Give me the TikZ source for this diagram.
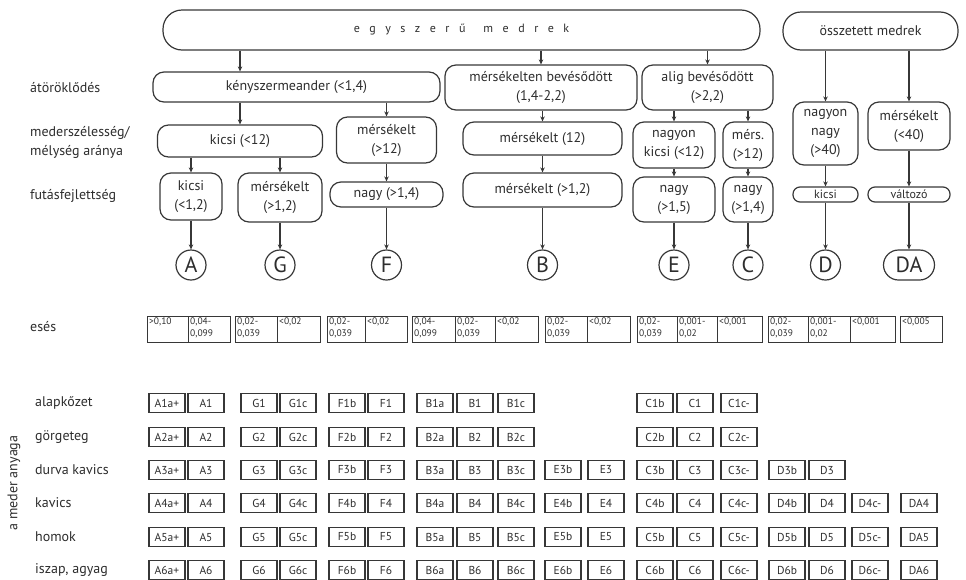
\documentclass[tikz,border=0pt]{standalone}
\usepackage{fontspec}
\setmainfont{PT Sans}
\usetikzlibrary{arrows.meta, positioning, calc}
\definecolor{vonalszin}{RGB}{55,55,55}
\definecolor{betuszin}{RGB}{45,45,45}

\begin{document}
\begin{tikzpicture}[
    x=1pt, y=-1pt,
    mbox/.style={draw=vonalszin, line width=1.2pt, rounded corners=11pt, align=center, inner sep=1pt, text=betuszin, font=\fontsize{14}{19}\selectfont},
    tinybox/.style={draw=vonalszin, line width=1.2pt, rounded corners=7pt, minimum height=15, inner sep=0pt, text=betuszin, font=\fontsize{12}{12}\selectfont},
    betu/.style={draw=vonalszin, line width=1.2pt, circle, minimum size=30, inner sep=0pt, text=betuszin, font=\fontsize{22}{22}\selectfont},
    cimke/.style={anchor=west, inner sep=0pt, align=left, text=betuszin, font=\fontsize{14}{19}\selectfont},
    esescella/.style={draw=vonalszin, line width=1.4pt, anchor=north west, minimum height=26, inner sep=0pt},
    esesszoveg/.style={anchor=north west, inner sep=2pt, align=left, text=betuszin, font=\fontsize{9.5}{11.5}\selectfont},
    cella/.style={draw=vonalszin, line width=1.4pt, minimum width=36, minimum height=19, inner sep=0pt, text=betuszin, font=\fontsize{11.5}{11.5}\selectfont},
    nyil/.style={draw=vonalszin, line width=1.1pt, -{Stealth[length=5pt, width=4.5pt]}}
]
    \useasboundingbox (0,0) rectangle (966,579);

    % Top level
    \node[mbox, minimum width=597, minimum height=40, rounded corners=19pt] (egy) at (461.5,30)
        {\fontsize{12}{12}\selectfont\spaceskip=9.5pt e g y s z e r ű\hspace{18pt}m e d r e k};
    \node[mbox, minimum width=175, minimum height=38, rounded corners=18pt] (ossz) at (870.5,31) {összetett medrek};

    % Entrenchment
    \node[mbox, minimum width=287, minimum height=30] (kenyszer) at (296.5,87) {kényszermeander (<1,4)};
    \node[mbox, minimum width=192, minimum height=45] (mersbev) at (541,87.5) {mérsékelten bevésődött\\(1,4-2,2)};
    \node[mbox, minimum width=131, minimum height=45] (alig) at (707.5,87.5) {alig bevésődött\\(>2,2)};

    % Width/depth ratio
    \node[mbox, minimum width=165, minimum height=32] (kicsiArany) at (240,141) {kicsi (<12)};
    \node[mbox, minimum width=100, minimum height=46] (mersArany) at (386.5,140) {mérsékelt\\(>12)};
    \node[mbox, minimum width=159, minimum height=33] (mersB) at (542.5,138.5) {mérsékelt (12)};
    \node[mbox, minimum width=82, minimum height=46] (nagyonKicsi) at (674,145) {nagyon\\kicsi (<12)};
    \node[mbox, minimum width=50, minimum height=46] (mersC) at (748,145) {mérs.\\(>12)};
    \node[mbox, minimum width=65, minimum height=63] (nagyonNagy) at (825.5,133.5) {nagyon\\nagy\\(>40)};
    \node[mbox, minimum width=82, minimum height=48] (mersDA) at (909,126) {mérsékelt\\(<40)};

    % Sinuosity
    \node[mbox, minimum width=62, minimum height=47] (kicsiFut) at (191,196.5) {kicsi\\(<1,2)};
    \node[mbox, minimum width=84, minimum height=49] (mersFut) at (280,197.5) {mérsékelt\\(>1,2)};
    \node[mbox, minimum width=113, minimum height=25] (nagyF) at (386.5,194.5) {nagy (>1,4)};
    \node[mbox, minimum width=159, minimum height=34] (mersFutB) at (542.5,190) {mérsékelt (>1,2)};
    \node[mbox, minimum width=82, minimum height=45] (nagyE) at (674,199.5) {nagy\\(>1,5)};
    \node[mbox, minimum width=50, minimum height=45] (nagyC) at (748,199.5) {nagy\\(>1,4)};
    \node[tinybox, minimum width=65] (kicsiD) at (825.5,194.5) {kicsi};
    \node[tinybox, minimum width=82] (valtozo) at (909,194.5) {változó};

    % Stream types
    \node[betu] (tA) at (191,265) {A};
    \node[betu] (tG) at (280,265) {G};
    \node[betu] (tF) at (386.5,265) {F};
    \node[betu] (tB) at (542.5,265) {B};
    \node[betu] (tE) at (674,265) {E};
    \node[betu] (tC) at (748,265) {C};
    \node[betu] (tD) at (825.5,265) {D};
    \node[betu, circle=false, rectangle, rounded corners=15pt, minimum width=51, minimum height=30] (tDA) at (909,265) {DA};

    % Connections
    \draw[nyil] (egy.south -| kicsiArany) -- (kenyszer.north -| kicsiArany);
    \draw[nyil] (egy.south -| mersbev) -- (mersbev.north);
    \draw[nyil] (egy.south -| alig) -- (alig.north);
    \draw[nyil] (ossz.south -| nagyonNagy) -- (nagyonNagy.north);
    \draw[nyil] (ossz.south -| mersDA) -- (mersDA.north);
    \draw[nyil] (kenyszer.south -| kicsiArany) -- (kicsiArany.north);
    \draw[nyil] (kenyszer.south -| mersArany) -- (mersArany.north);
    \draw[nyil] (mersbev.south -| mersB) -- (mersB.north);
    \draw[nyil] (alig.south -| nagyonKicsi) -- (nagyonKicsi.north);
    \draw[nyil] (alig.south -| mersC) -- (mersC.north);
    \draw[nyil] (kicsiArany.south -| kicsiFut) -- (kicsiFut.north);
    \draw[nyil] (kicsiArany.south -| mersFut) -- (mersFut.north);
    \draw[nyil] (mersArany) -- (nagyF);
    \draw[nyil] (mersB) -- (mersFutB);
    \draw[nyil] (nagyonKicsi) -- (nagyE);
    \draw[nyil] (mersC) -- (nagyC);
    \draw[nyil] (nagyonNagy) -- (kicsiD);
    \draw[nyil] (mersDA) -- (valtozo);
    \draw[nyil] (kicsiFut) -- (tA);
    \draw[nyil] (mersFut) -- (tG);
    \draw[nyil] (nagyF) -- (tF);
    \draw[nyil] (mersFutB) -- (tB);
    \draw[nyil] (nagyE) -- (tE);
    \draw[nyil] (nagyC) -- (tC);
    \draw[nyil] (kicsiD) -- (tD);
    \draw[nyil] (valtozo) -- (tDA);

    % Row labels
    \node[cimke] (lAtor) at (30,88) {átöröklődés};
    \node[cimke] (lArany) at (30,142) {mederszélesség/\\mélység aránya};
    \node[cimke] (lFut) at (30,196) {futásfejlettség};
    \node[cimke] (lEses) at (30,327) {esés};

    % Slope
    \foreach \x/\w/\t [count=\i] in {147/41/{>0,10}, 188/42/{0,04-\\0,099},
        235/42/{0,02-\\0,039}, 277/43/{<0,02},
        327/38/{0,02-\\0,039}, 365/42/{<0,02},
        412/43/{0,04-\\0,099}, 455/40/{0,02-\\0,039}, 495/43/{<0,02},
        545/42/{0,02-\\0,039}, 587/43/{<0,02},
        637/40/{0,02-\\0,039}, 677/40/{0,001-\\0,02}, 717/45/{<0,001},
        768/40/{0,02-\\0,039}, 808/42/{0,001-\\0,02}, 850/45/{<0,001},
        900/42/{<0,005}} {
        \node[esescella, minimum width=\w] (e\i) at (\x,316) {};
        \node[esesszoveg] (et\i) at (e\i.north west) {\t};
    }

    % Bed material
    \node[cimke, anchor=center, rotate=90] (lAnyag) at (14,483) {a meder anyaga};
    \foreach \r/\y/\nev/\utolso in {1/403/alapkőzet/14, 2/437/görgeteg/14, 3/470/durva kavics/16,
        4/503/kavics/18, 5/537/homok/18, 6/570/{iszap, agyag}/18} {
        \node[cimke] (l\r) at (35,\y) {\nev};
        \foreach \x/\elo/\uto [count=\c] in {167/A/a+, 206/A/{}, 259/G/{}, 298/G/c, 347/F/b, 386/F/{},
            435/B/a, 475/B/{}, 516/B/c, 563/E/b, 606/E/{}, 655/C/b, 695/C/{}, 739/C/c-,
            787/D/b, 827/D/{}, 870/D/c-, 919/DA/{}} {
            \pgfmathtruncatemacro{\latszik}{(\c<=\utolso) && !((\r<3) && ((\c==10) || (\c==11)))}
            \ifnum\latszik=1
                \node[cella] (m\r-\c) at (\x,\y) {\elo\r\uto};
            \fi
        }
    }

\end{tikzpicture}
\end{document}
